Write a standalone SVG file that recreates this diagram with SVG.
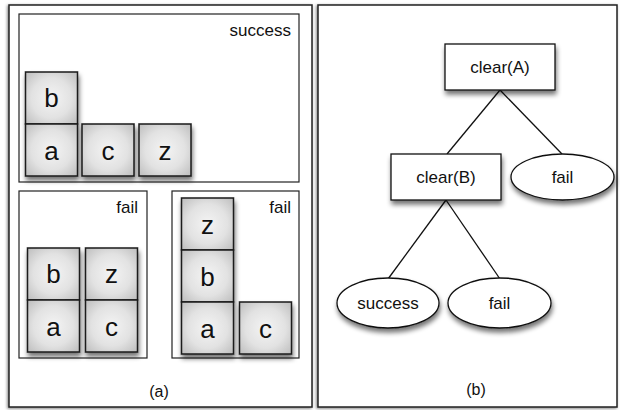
<svg xmlns="http://www.w3.org/2000/svg" width="620" height="410" viewBox="0 0 620 410">
<defs>
<radialGradient id="bg" cx="0.5" cy="0.5" r="0.7">
<stop offset="0" stop-color="#f4f4f4"/>
<stop offset="0.55" stop-color="#e2e2e2"/>
<stop offset="1" stop-color="#bdbdbd"/>
</radialGradient>
<filter id="sh" x="-30%" y="-30%" width="170%" height="170%">
<feGaussianBlur in="SourceAlpha" stdDeviation="2.5"/>
<feOffset dx="1" dy="4" result="b"/>
<feComponentTransfer><feFuncA type="linear" slope="0.55"/></feComponentTransfer>
<feMerge><feMergeNode/><feMergeNode in="SourceGraphic"/></feMerge>
</filter>
<filter id="psh" x="-5%" y="-5%" width="110%" height="110%">
<feGaussianBlur in="SourceAlpha" stdDeviation="1.5"/>
<feOffset dx="-1" dy="1" result="b"/>
<feComponentTransfer><feFuncA type="linear" slope="0.5"/></feComponentTransfer>
<feMerge><feMergeNode/><feMergeNode in="SourceGraphic"/></feMerge>
</filter>
</defs>
<style>
.panel{fill:#fff;stroke:#222;stroke-width:1.5}
.box{fill:#fff;stroke:#222;stroke-width:1.2}
.blk{fill:url(#bg);stroke:#1a1a1a;stroke-width:1.5}
.node{fill:#fff;stroke:#111;stroke-width:1.3}
.t{font-family:"Liberation Sans",Arial,sans-serif;fill:#111}
.lbl{font-size:17px;text-anchor:end}
.bl{font-size:26px;text-anchor:middle}
.nt{font-size:17px;text-anchor:middle}
.edge{stroke:#111;stroke-width:1.3;fill:none}
</style>
<rect width="620" height="410" fill="#fff"/>
<g id="panel-a">
<rect class="panel" x="9" y="5" width="303" height="402" filter="url(#psh)"/>
<text class="t nt" x="159" y="397" style="font-size:16px">(a)</text>
</g>
<g id="panel-b">
<rect class="panel" x="318" y="5" width="299" height="402" filter="url(#psh)"/>
<text class="t nt" x="476" y="395" style="font-size:16px">(b)</text>
</g>
<g id="state-success">
<rect class="box" x="19" y="14" width="280" height="168"/>
<text class="t lbl" x="291" y="36">success</text>
<g filter="url(#sh)">
<rect class="blk" x="25.5" y="72" width="52" height="52"/>
<rect class="blk" x="25.5" y="124" width="52" height="52"/>
<rect class="blk" x="82" y="124" width="52" height="52"/>
<rect class="blk" x="139" y="124" width="52" height="52"/>
</g>
<text class="t bl" x="51.5" y="107">b</text>
<text class="t bl" x="51.5" y="160">a</text>
<text class="t bl" x="108" y="160">c</text>
<text class="t bl" x="165" y="160">z</text>
</g>
<g id="state-fail-1">
<rect class="box" x="19" y="191" width="128" height="167"/>
<text class="t lbl" x="138" y="213">fail</text>
<g filter="url(#sh)">
<rect class="blk" x="27.5" y="248" width="52" height="52"/>
<rect class="blk" x="27.5" y="300" width="52" height="52"/>
<rect class="blk" x="85.5" y="248" width="52" height="52"/>
<rect class="blk" x="85.5" y="300" width="52" height="52"/>
</g>
<text class="t bl" x="53.5" y="283">b</text>
<text class="t bl" x="53.5" y="336">a</text>
<text class="t bl" x="111.5" y="283">z</text>
<text class="t bl" x="111.5" y="336">c</text>
</g>
<g id="state-fail-2">
<rect class="box" x="172" y="191" width="127" height="167"/>
<text class="t lbl" x="291" y="213">fail</text>
<g filter="url(#sh)">
<rect class="blk" x="181.5" y="198" width="52" height="52"/>
<rect class="blk" x="181.5" y="250" width="52" height="52"/>
<rect class="blk" x="181.5" y="302" width="52" height="52"/>
<rect class="blk" x="239.5" y="302" width="52" height="52"/>
</g>
<text class="t bl" x="207.5" y="234">z</text>
<text class="t bl" x="207.5" y="286">b</text>
<text class="t bl" x="207.5" y="338">a</text>
<text class="t bl" x="265.5" y="338">c</text>
</g>
<g id="connectors">
<line class="edge" x1="500" y1="90" x2="447" y2="154"/>
<line class="edge" x1="500" y1="90" x2="562" y2="154"/>
<line class="edge" x1="446" y1="200" x2="388" y2="279"/>
<line class="edge" x1="446" y1="200" x2="500" y2="279"/>
</g>
<g id="clearA">
<rect class="node" x="445" y="44" width="110" height="46" filter="url(#sh)"/>
<text class="t nt" x="500" y="73">clear(A)</text>
</g>
<g id="clearB">
<rect class="node" x="391" y="154" width="110" height="46" filter="url(#sh)"/>
<text class="t nt" x="446" y="183">clear(B)</text>
</g>
<g id="fail1">
<ellipse class="node" cx="562.5" cy="177" rx="51.5" ry="23" filter="url(#sh)"/>
<text class="t nt" x="562.5" y="183">fail</text>
</g>
<g id="success">
<ellipse class="node" cx="388" cy="303" rx="51" ry="25" filter="url(#sh)"/>
<text class="t nt" x="388" y="309">success</text>
</g>
<g id="fail2">
<ellipse class="node" cx="499.5" cy="303" rx="51.5" ry="25" filter="url(#sh)"/>
<text class="t nt" x="499.5" y="309">fail</text>
</g>
</svg>
